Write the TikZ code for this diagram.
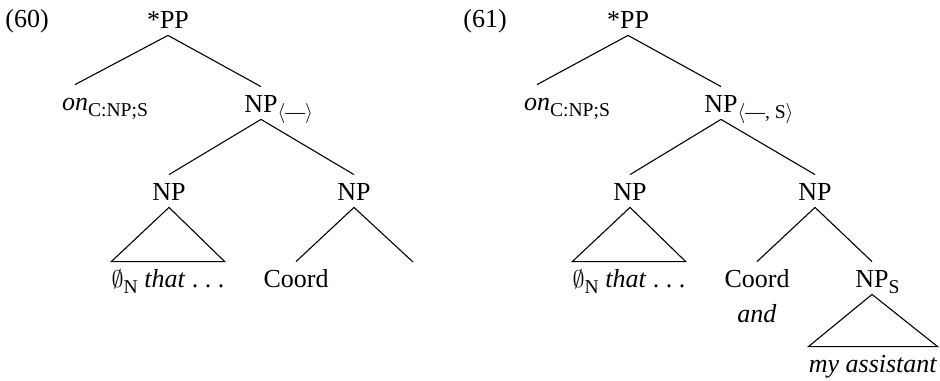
\documentclass[tikz,border=0pt]{standalone}
\usepackage{fontspec}
\setmainfont{Liberation Serif}
\usetikzlibrary{positioning}
\newcommand{\treesub}[1]{\raisebox{-3pt}{\fontsize{9.8}{11}\selectfont #1}}

\begin{document}
\begin{tikzpicture}[x=0.5pt,y=-0.5pt,
          every node/.style={font=\fontsize{13}{15}\selectfont},
          cat/.style={anchor=base,inner xsep=0pt,inner ysep=3.5pt,
                      text height=9pt,text depth=0pt},
          exnum/.style={anchor=base west,inner sep=0pt},
          branch/.style={line width=0.55pt},
      ]
        \useasboundingbox (0,0) rectangle (940,380);

        % (60)
        \node[exnum] (numA) at (5,27) {(60)};
        \node[cat] (ppA) at (168,28) {*PP};
        \node[cat] (onA) at (75,110) {\textit{on}\rlap{\treesub{C:NP;S}}};
        \node[cat] (npA) at (261,112) {NP\rlap{\treesub{$\langle$—$\rangle$}}};
        \node[cat] (npAa) at (169,200) {NP};
        \node[cat] (npAb) at (354,200) {NP};
        \node[cat] (leafA) at (168,287) {$\emptyset$\treesub{N} \textit{that} .\ .\ .};
        \node[cat] (coordA) at (296,287) {Coord};
        \coordinate (endA) at (413,262);

        \draw[branch] (ppA.south) -- (onA.north);
        \draw[branch] (ppA.south) -- (npA.north);
        \draw[branch] (npA.south) -- (npAa.north);
        \draw[branch] (npA.south) -- (npAb.north);
        \draw[branch] (npAa.south) -- (leafA.north west) -- (leafA.north east) -- cycle;
        \draw[branch] (npAb.south) -- (coordA.north);
        \draw[branch] (npAb.south) -- (endA);

        % (61)
        \node[exnum] (numB) at (463,27) {(61)};
        \node[cat] (ppB) at (628,28) {*PP};
        \node[cat] (onB) at (537,110) {\textit{on}\rlap{\treesub{C:NP;S}}};
        \node[cat] (npB) at (721,112) {NP\rlap{\treesub{$\langle$—, S$\rangle$}}};
        \node[cat] (npBa) at (630,200) {NP};
        \node[cat] (npBb) at (815,200) {NP};
        \node[cat] (leafB) at (629,287) {$\emptyset$\treesub{N} \textit{that} .\ .\ .};
        \node[cat] (coordB) at (757,287) {Coord};
        \node[anchor=base] (andB) at (757,322) {\textit{and}};
        \node[cat] (npS) at (872,287) {NP\rlap{\treesub{S}}};
        \node[cat] (leafS) at (873,372) {\textit{my assistant}};

        \draw[branch] (ppB.south) -- (onB.north);
        \draw[branch] (ppB.south) -- (npB.north);
        \draw[branch] (npB.south) -- (npBa.north);
        \draw[branch] (npB.south) -- (npBb.north);
        \draw[branch] (npBa.south) -- (leafB.north west) -- (leafB.north east) -- cycle;
        \draw[branch] (npBb.south) -- (coordB.north);
        \draw[branch] (npBb.south) -- (npS.north);
        \draw[branch] (npS.south) -- (leafS.north west) -- (leafS.north east) -- cycle;
      \end{tikzpicture}
\end{document}
